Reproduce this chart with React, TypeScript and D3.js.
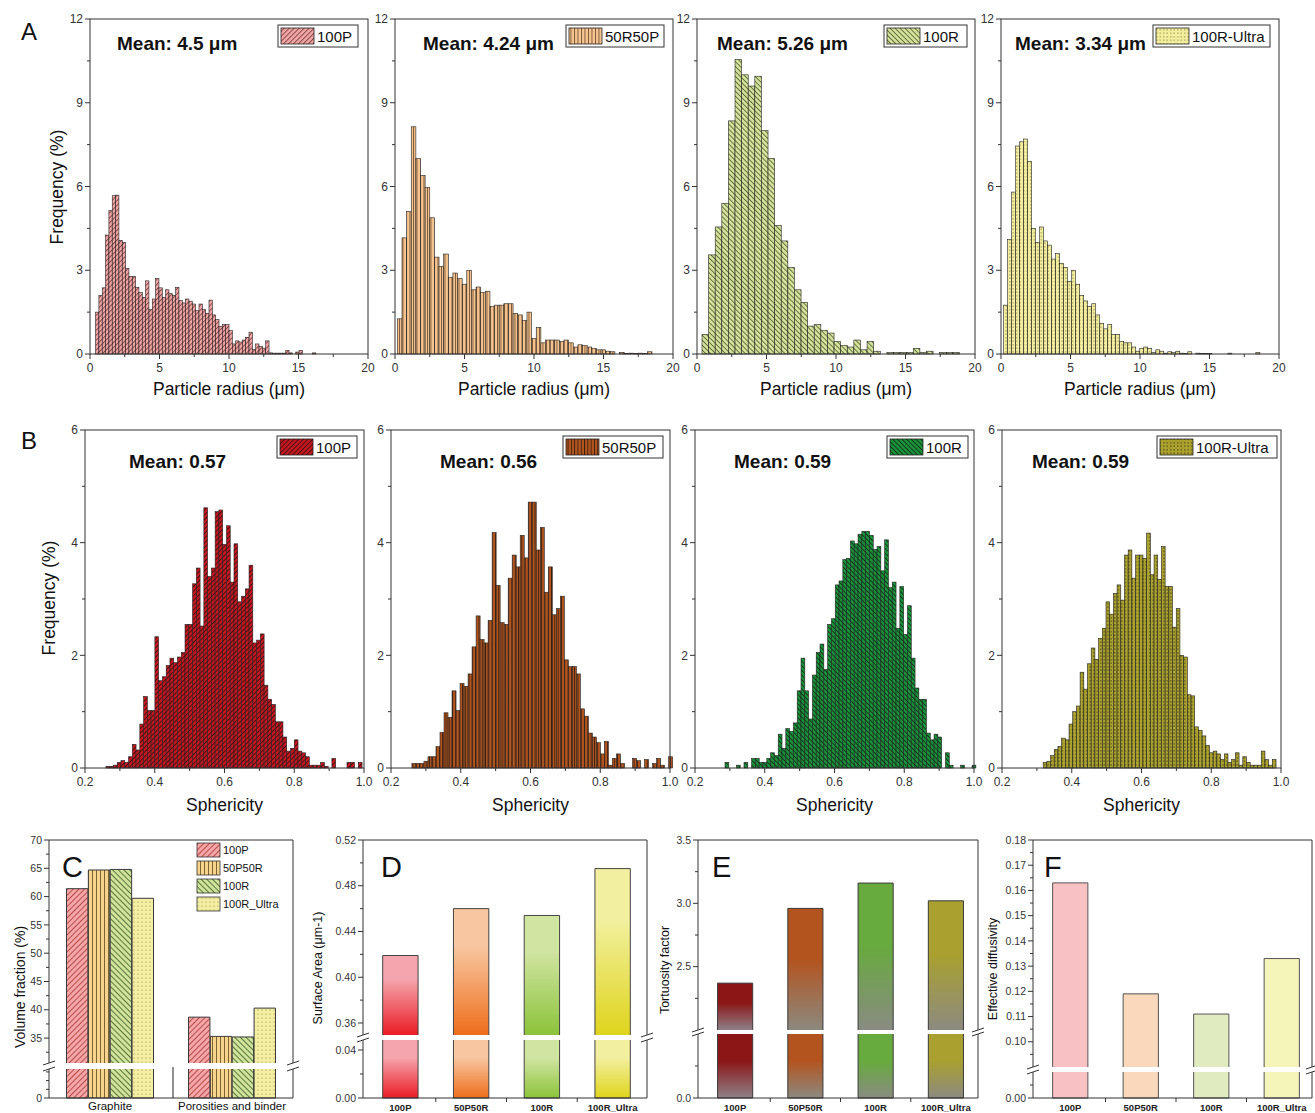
import React from "react";
import * as d3 from "d3";

// ---------------- DATA ----------------
// Row A: particle radius histograms (frequency %), bins given by [start, width]
const radiusTicks = [0, 5, 10, 15, 20];
const radiusMinor = [2.5, 7.5, 12.5, 17.5];
const radiusFreqTicks = [0, 3, 6, 9, 12];
const radiusFreqMinor = [1.5, 4.5, 7.5, 10.5];

const radius100P = [1.5, 2.1, 2.37, 4.26, 5.14, 5.67, 5.69, 4.07, 4.0, 3.07, 2.78, 2.78, 2.39, 2.2, 2.03, 2.62, 1.59, 1.97, 2.7, 2.37, 2.03, 2.3, 2.16, 2.1, 2.39, 1.91, 1.83, 1.97, 1.89, 1.79, 1.55, 1.79, 1.59, 1.46, 1.93, 1.4, 1.23, 0.99, 1.05, 1.05, 0.84, 0.36, 0.47, 0.43, 0.5, 0.6, 0.78, 0.16, 0.36, 0.27, 0.21, 0.47, 0.04, 0.03, 0.03, 0.03, 0.03, 0.13, 0.04, 0, 0.07, 0.13, 0, 0, 0, 0.04];
const radius100PBin = [0.4, 0.24];
const radius50R50P = [1.26, 4.16, 5.1, 8.14, 7.0, 6.4, 5.97, 4.88, 3.47, 3.14, 3.58, 2.75, 2.9, 2.7, 2.5, 3.0, 2.3, 2.4, 2.2, 2.25, 1.7, 1.75, 1.75, 1.8, 1.8, 1.45, 1.4, 1.2, 1.5, 0.55, 0.95, 0.4, 0.5, 0.5, 0.5, 0.45, 0.5, 0.4, 0.25, 0.33, 0.3, 0.25, 0.2, 0.15, 0.15, 0.1, 0.08, 0, 0.06, 0.02, 0.03, 0.02, 0.03, 0.02, 0.08];
const radius50R50PBin = [0.17, 0.333];
const radius100R = [0.7, 3.55, 4.55, 5.4, 8.35, 10.55, 10.0, 9.6, 9.95, 8.0, 7.0, 4.6, 4.05, 3.1, 2.3, 1.85, 1.0, 1.05, 0.85, 0.75, 0.45, 0.3, 0.25, 0.5, 0.15, 0.45, 0.1, 0, 0.05, 0.05, 0.05, 0.05, 0.2, 0.05, 0.1, 0, 0.05, 0.05, 0.05];
const radius100RBin = [0.36, 0.475];
const radiusUltra = [1.75, 4.1, 5.8, 7.45, 7.6, 7.7, 6.9, 4.5, 4.0, 4.55, 4.05, 3.9, 3.4, 3.6, 3.25, 3.1, 2.6, 3.0, 2.5, 2.1, 1.9, 1.7, 1.8, 1.4, 1.1, 0.9, 1.05, 0.7, 0.7, 0.45, 0.4, 0.4, 0.25, 0.1, 0.2, 0.25, 0.2, 0.05, 0.15, 0.1, 0.03, 0.08, 0.05, 0.1, 0.03, 0.02, 0.08, 0, 0.03, 0.02, 0.02, 0.02, 0, 0, 0, 0, 0.03, 0, 0, 0, 0, 0, 0, 0.05];
const radiusUltraBin = [0.19, 0.288];
const radiusLegends = ["100P", "50R50P", "100R", "100R-Ultra"];
const radiusMeans = ["Mean: 4.5 μm", "Mean: 4.24 μm", "Mean: 5.26 μm", "Mean: 3.34 μm"];

// Row B: sphericity histograms
const spherTicks = [0.2, 0.4, 0.6, 0.8, 1.0];
const spherMinor = [0.3, 0.5, 0.7, 0.9];
const spherFreqTicks = [0, 2, 4, 6];
const spherFreqMinor = [1, 3, 5];

const spher100P = [0.03, 0.03, 0.05, 0.1, 0.13, 0.1, 0.2, 0.42, 0.32, 0.78, 1.27, 1.02, 1.02, 2.33, 1.55, 1.62, 1.82, 1.95, 1.87, 1.97, 2.05, 2.55, 2.55, 3.27, 3.55, 2.52, 4.62, 3.4, 3.55, 4.55, 4.58, 3.97, 4.3, 3.3, 3.98, 2.95, 3.05, 3.18, 3.6, 2.22, 2.27, 2.38, 1.47, 1.22, 1.13, 0.82, 0.82, 0.55, 0.3, 0.35, 0.5, 0.3, 0.27, 0.2, 0.05, 0.05, 0.05, 0.1, 0.03, 0, 0.17, 0, 0, 0, 0.1, 0.1, 0, 0.1];
const spher100PBin = [0.26, 0.0108];
const spher50R50P = [0.08, 0.08, 0.08, 0.12, 0.2, 0.2, 0.38, 0.63, 0.98, 0.9, 1.37, 1.02, 1.5, 1.45, 1.67, 2.15, 2.7, 2.28, 2.22, 2.62, 4.18, 3.24, 2.58, 2.55, 3.37, 3.78, 3.57, 4.13, 3.73, 4.72, 4.72, 3.87, 4.27, 3.12, 3.57, 2.72, 2.83, 3.05, 1.92, 1.8, 1.8, 1.67, 1.05, 0.92, 0.62, 0.55, 0.45, 0.25, 0.47, 0.05, 0.17, 0.25, 0.08, 0, 0, 0.17, 0.13, 0, 0.15, 0, 0.08, 0.17, 0.05, 0, 0.2];
const spher50R50PBin = [0.26, 0.0115];
const spher100R = [0.1, 0, 0, 0.05, 0, 0.1, 0, 0.17, 0.17, 0.1, 0.1, 0.17, 0.27, 0.22, 0.6, 0.35, 0.7, 0.65, 0.8, 1.37, 1.95, 1.37, 0.87, 1.65, 2.05, 2.2, 1.75, 2.55, 2.65, 3.25, 3.32, 3.7, 3.72, 4.03, 3.98, 4.15, 4.2, 4.2, 4.13, 3.88, 3.93, 3.5, 4.05, 3.2, 3.3, 2.48, 3.22, 2.37, 2.88, 1.95, 1.42, 1.22, 1.22, 0.62, 0.5, 0.6, 0.55, 0, 0.27, 0.05, 0, 0, 0.05, 0, 0, 0.05];
const spher100RBin = [0.286, 0.0109];
const spherUltra = [0.1, 0.12, 0.22, 0.33, 0.38, 0.53, 0.5, 0.78, 1.0, 1.1, 1.7, 1.4, 1.85, 2.13, 1.93, 2.3, 2.48, 2.95, 2.73, 3.1, 3.25, 2.98, 3.78, 3.87, 3.37, 3.78, 3.78, 3.72, 4.17, 3.43, 3.78, 3.35, 3.93, 3.22, 3.22, 2.5, 2.83, 2.0, 1.97, 1.3, 1.28, 0.73, 0.67, 0.57, 0.4, 0.27, 0.3, 0.25, 0.15, 0.25, 0.1, 0.15, 0.27, 0.05, 0.2, 0.1, 0.05, 0.05, 0.05, 0.3, 0.15, 0.05, 0.15];
const spherUltraBin = [0.318, 0.0106];
const spherLegends = ["100P", "50R50P", "100R", "100R-Ultra"];
const spherMeans = ["Mean: 0.57", "Mean: 0.56", "Mean: 0.59", "Mean: 0.59"];

// Panel C: volume fraction
const volumeGroups = ["Graphite", "Porosities and binder"];
const volumeSeries = ["100P", "50P50R", "100R", "100R_Ultra"];
const graphiteFraction = [61.4, 64.7, 64.8, 59.7];
const porosityFraction = [38.7, 35.3, 35.2, 40.3];
const volumeUpperTicks = [35, 40, 45, 50, 55, 60, 65, 70];

// Panels D, E, F
const samples = ["100P", "50P50R", "100R", "100R_Ultra"];
const surfaceArea = [0.419, 0.46, 0.454, 0.495];
const surfaceUpperTicks = [0.36, 0.4, 0.44, 0.48, 0.52];
const surfaceLowerTicks = [0, 0.04];
const tortuosity = [2.37, 2.96, 3.16, 3.02];
const tortUpperTicks = [2.5, 3.0, 3.5];
const diffusivity = [0.163, 0.119, 0.111, 0.133];
const diffUpperTicks = [0.1, 0.11, 0.12, 0.13, 0.14, 0.15, 0.16, 0.17, 0.18];

// ---------------- STYLE / LAYOUT ----------------
const FONT = "'Liberation Sans', Arial, Helvetica, sans-serif";
const AX = "#333";

const rowALefts = [90, 395, 697, 1001];
const rowBLefts = [85, 391, 695, 1002];
const histW = 278;
const histWB = 279;
const rowA = { top: 19, bottom: 354 };
const rowB = { top: 430, bottom: 768 };
const meanAX = [117, 423, 717, 1015];
const meanBX = [129, 440, 734, 1032];
const legA = [[278, 80], [566, 98], [884, 83], [1153, 117]];
const legB = [[277, 80], [563, 100], [887, 81], [1157, 120]];

const kinds = ["up", "vert", "down", "dots"];
const fillA = ["#f2a5a5", "#f7c48f", "#d5e39c", "#f4ef9f"];
const strokeA = ["#5a2424", "#4a3018", "#33401a", "#6a6428"];
const fillB = ["#c9161e", "#b3541d", "#19943a", "#aba22d"];
const fillC = ["#f5a7a7", "#f6d48d", "#cfe39d", "#f3eea1"];
const strokeC = ["#a83434", "#5e4818", "#3f5a1e", "#8a8240"];
const gradDTop = ["#f5a5ad", "#f8c6a0", "#d1e5a2", "#f2f0a0"];
const gradDBot = ["#ea1c24", "#ee6e1c", "#8cc33a", "#dfd41c"];
const gradETop = ["#8a1616", "#b3541f", "#67aa3d", "#a9a030"];
const gradEBot = ["#8e8189", "#8c897f", "#898b82", "#8c8a80"];
const fillF = ["#f8c1c3", "#f9d8bc", "#e0ebc0", "#f5f4b9"];

function Pat({ id, kind, fill, stroke, size, sw }: any) {
  if (kind === "dots") {
    return (
      <pattern id={id} width={size} height={size} patternUnits="userSpaceOnUse">
        <rect width={size} height={size} fill={fill} />
        <circle cx={size / 2} cy={size / 2} r={0.55} fill={stroke} />
      </pattern>
    );
  }
  const rot = kind === "up" ? 45 : kind === "down" ? -45 : 0;
  return (
    <pattern id={id} width={size} height={size} patternUnits="userSpaceOnUse" patternTransform={`rotate(${rot})`}>
      <rect width={size} height={size} fill={fill} />
      <line x1={0.5} y1={0} x2={0.5} y2={size} stroke={stroke} strokeWidth={sw} />
    </pattern>
  );
}

function Histogram(p: any) {
  const sx = d3.scaleLinear().domain(p.xDomain).range([p.left, p.left + p.width]);
  const sy = d3.scaleLinear().domain(p.yDomain).range([p.bottom, p.top]);
  const bars = p.values
    .map((v: number, i: number) => ({ v, x0: p.start + i * p.binWidth, x1: p.start + (i + 1) * p.binWidth }))
    .filter((b: any) => b.v > 0);
  const [lx, lw] = p.legend;
  const ly = p.top + 6;
  return (
    <g>
      {bars.map((b: any, i: number) => (
        <rect key={i} x={sx(b.x0)} y={sy(b.v)} width={sx(b.x1) - sx(b.x0)} height={sy(0) - sy(b.v)}
          fill={`url(#${p.patternId})`} stroke="#222" strokeWidth={0.6} />
      ))}
      <rect x={p.left} y={p.top} width={p.width} height={p.bottom - p.top} fill="none" stroke={AX} strokeWidth={1} />
      {p.xTicks.map((t: number) => (
        <g key={"xt" + t}>
          <line x1={sx(t)} x2={sx(t)} y1={p.bottom} y2={p.bottom + 5} stroke={AX} />
          <text x={sx(t)} y={p.bottom + 18} textAnchor="middle" fontSize={12} fill="#333">{p.fmtX(t)}</text>
        </g>
      ))}
      {p.xMinor.map((t: number) => (
        <line key={"xm" + t} x1={sx(t)} x2={sx(t)} y1={p.bottom} y2={p.bottom + 3} stroke={AX} />
      ))}
      {p.yTicks.map((t: number) => (
        <g key={"yt" + t}>
          <line x1={p.left - 5} x2={p.left} y1={sy(t)} y2={sy(t)} stroke={AX} />
          <text x={p.left - 7} y={sy(t)} dy="0.35em" textAnchor="end" fontSize={12} fill="#333">{t}</text>
        </g>
      ))}
      {p.yMinor.map((t: number) => (
        <line key={"ym" + t} x1={p.left - 3} x2={p.left} y1={sy(t)} y2={sy(t)} stroke={AX} />
      ))}
      <rect x={lx} y={ly} width={lw} height={22} fill="#fff" stroke={AX} strokeWidth={1} />
      <rect x={lx + 3} y={ly + 3} width={33} height={16} fill={`url(#${p.patternId})`} stroke="#222" strokeWidth={0.8} />
      <text x={lx + 39} y={ly + 17} fontSize={15} fill="#111">{p.legendLabel}</text>
      <text x={p.meanX} y={p.meanY} fontSize={19} fontWeight="bold" fill="#111">{p.mean}</text>
      <text x={p.left + p.width / 2} y={p.xLabelY} textAnchor="middle" fontSize={17.5} fill="#111">{p.xLabel}</text>
    </g>
  );
}

function BrokenPanel(p: any) {
  const up = d3.scaleLinear().domain(p.upperDomain).range([p.upperBottom, p.top]);
  const lo = d3.scaleLinear().domain(p.lowerDomain).range([p.bottom, p.lowerTop]);
  const breakMarks = (x: number) => (
    <g>
      <polygon points={`${x - 6},${p.upperBottom + 2} ${x + 6},${p.upperBottom - 2} ${x + 6},${p.lowerTop - 2} ${x - 6},${p.lowerTop + 2}`} fill="#fff" />
      <line x1={x - 6} y1={p.upperBottom + 2} x2={x + 6} y2={p.upperBottom - 2} stroke={AX} strokeWidth={1} />
      <line x1={x - 6} y1={p.lowerTop + 2} x2={x + 6} y2={p.lowerTop - 2} stroke={AX} strokeWidth={1} />
    </g>
  );
  const lowMax = p.lowerDomain[1];
  return (
    <g>
      {p.bars.map((b: any, i: number) => {
        const lt = lo(Math.min(b.v, lowMax));
        const ut = up(b.v);
        const x2 = b.x + b.w;
        return (
          <g key={i}>
            <rect x={b.x} y={lt} width={b.w} height={p.bottom - lt} fill={b.fill} />
            <path d={`M${b.x},${lt} L${b.x},${p.bottom} L${x2},${p.bottom} L${x2},${lt}`} fill="none" stroke={p.barStroke} strokeWidth={1} />
            {b.v > p.upperDomain[0] && (
              <g>
                <rect x={b.x} y={ut} width={b.w} height={p.upperBottom - ut} fill={b.fill} />
                <path d={`M${b.x},${p.upperBottom} L${b.x},${ut} L${x2},${ut} L${x2},${p.upperBottom}`} fill="none" stroke={p.barStroke} strokeWidth={1} />
              </g>
            )}
          </g>
        );
      })}
      <line x1={p.left} x2={p.right} y1={p.top} y2={p.top} stroke={AX} />
      <line x1={p.left} x2={p.right} y1={p.bottom} y2={p.bottom} stroke={AX} />
      <line x1={p.left} x2={p.left} y1={p.top} y2={p.upperBottom} stroke={AX} />
      <line x1={p.left} x2={p.left} y1={p.lowerTop} y2={p.bottom} stroke={AX} />
      <line x1={p.right} x2={p.right} y1={p.top} y2={p.upperBottom} stroke={AX} />
      <line x1={p.right} x2={p.right} y1={p.lowerTop} y2={p.bottom} stroke={AX} />
      {breakMarks(p.left)}
      {breakMarks(p.right)}
      {p.upperTicks.map((t: number) => (
        <g key={"u" + t}>
          <line x1={p.left - 5} x2={p.left} y1={up(t)} y2={up(t)} stroke={AX} />
          <text x={p.left - 7} y={up(t)} dy="0.35em" textAnchor="end" fontSize={10.5} fill="#333">{p.fmt(t)}</text>
        </g>
      ))}
      {p.upperMinor.map((t: number) => (
        <line key={"um" + t} x1={p.left - 3} x2={p.left} y1={up(t)} y2={up(t)} stroke={AX} />
      ))}
      {p.lowerTicks.map((t: number) => (
        <g key={"l" + t}>
          <line x1={p.left - 5} x2={p.left} y1={lo(t)} y2={lo(t)} stroke={AX} />
          <text x={p.left - 7} y={lo(t)} dy="0.35em" textAnchor="end" fontSize={10.5} fill="#333">{p.fmt(t)}</text>
        </g>
      ))}
      {p.lowerMinor.map((t: number) => (
        <line key={"lm" + t} x1={p.left - 3} x2={p.left} y1={lo(t)} y2={lo(t)} stroke={AX} />
      ))}
      {p.xTicks.map((x: number, i: number) => (
        <line key={"xt" + i} x1={x} x2={x} y1={p.bottom} y2={p.bottom + 4} stroke={AX} />
      ))}
      <text transform={`translate(${p.yLabelX},${p.yLabelY}) rotate(-90)`} textAnchor="middle" dy="0.35em" fontSize={p.yLabelSize} fill="#111">{p.yLabel}</text>
      <text x={p.letterX} y={p.top + 37} fontSize={29} fill="#111">{p.letter}</text>
      {p.children}
    </g>
  );
}

export default function App() {
  const radiusData = [
    [radius100P, radius100PBin],
    [radius50R50P, radius50R50PBin],
    [radius100R, radius100RBin],
    [radiusUltra, radiusUltraBin],
  ];
  const spherData = [
    [spher100P, spher100PBin],
    [spher50R50P, spher50R50PBin],
    [spher100R, spher100RBin],
    [spherUltra, spherUltraBin],
  ];

  // Panel C
  const cLeft = 49, cRight = 293, botTop = 840, botBottom = 1098;
  const groupScale = d3.scaleBand().domain(volumeGroups).range([cLeft, cRight]);
  const innerScale = d3.scaleBand().domain(volumeSeries).range([0, 87]).paddingInner(0.02);
  const volumeBars: any[] = [];
  [graphiteFraction, porosityFraction].forEach((vals, gi) => {
    const g = volumeGroups[gi];
    const cx = (groupScale(g) as number) + groupScale.bandwidth() / 2;
    vals.forEach((v, si) => {
      volumeBars.push({ x: cx - 43.5 + (innerScale(volumeSeries[si]) as number), w: innerScale.bandwidth(), v, fill: `url(#pc${si})` });
    });
  });

  const makeBand = (r0: number, r1: number) =>
    d3.scaleBand().domain(samples).range([r0, r1]).paddingInner(0.5).paddingOuter(0.25);
  const dBand = makeBand(365, 648);
  const eBand = makeBand(700, 981);
  const fBand = makeBand(1035, 1317);
  const mids = (b: any) => samples.slice(0, 3).map((s) => (b(s) as number) + b.bandwidth() + (b.step() - b.bandwidth()) / 2);

  const catLabels = (b: any) =>
    samples.map((s) => (
      <text key={s} x={(b(s) as number) + b.bandwidth() / 2} y={1111} textAnchor="middle" fontSize={9.5} fontWeight="bold" fill="#222">{s}</text>
    ));

  return (
    <svg width={1315} height={1113} style={{ position: "absolute", left: 0, top: 0 }} fontFamily={FONT}>
      <defs>
        {kinds.map((k, i) => (
          <Pat key={"a" + i} id={`pa${i}`} kind={k} fill={fillA[i]} stroke={strokeA[i]} size={3.5} sw={0.7} />
        ))}
        {kinds.map((k, i) => (
          <Pat key={"b" + i} id={`pb${i}`} kind={k} fill={fillB[i]} stroke="#111" size={k === "dots" ? 3.5 : 3.3} sw={0.7} />
        ))}
        {kinds.map((k, i) => (
          <Pat key={"c" + i} id={`pc${i}`} kind={k} fill={fillC[i]} stroke={strokeC[i]} size={4} sw={0.8} />
        ))}
        {samples.map((s, i) => (
          <linearGradient key={"gd" + i} id={`gd${i}`} x1="0" y1="0" x2="0" y2="1">
            <stop offset="0" stopColor={gradDTop[i]} />
            <stop offset="0.3" stopColor={gradDTop[i]} />
            <stop offset="1" stopColor={gradDBot[i]} />
          </linearGradient>
        ))}
        {samples.map((s, i) => (
          <linearGradient key={"ge" + i} id={`ge${i}`} x1="0" y1="0" x2="0" y2="1">
            <stop offset="0" stopColor={gradETop[i]} />
            <stop offset="0.42" stopColor={gradETop[i]} />
            <stop offset="1" stopColor={gradEBot[i]} />
          </linearGradient>
        ))}
      </defs>
      <rect width={1315} height={1113} fill="#fff" />

      {/* Row A */}
      <text x={21} y={40} fontSize={24} fill="#111">A</text>
      {radiusData.map(([vals, bin]: any, i) => (
        <Histogram key={"A" + i} left={rowALefts[i]} width={histW} top={rowA.top} bottom={rowA.bottom}
          xDomain={[0, 20]} yDomain={[0, 12]} values={vals} start={bin[0]} binWidth={bin[1]}
          xTicks={radiusTicks} xMinor={radiusMinor} yTicks={radiusFreqTicks} yMinor={radiusFreqMinor}
          fmtX={(v: number) => String(v)} patternId={`pa${i}`} legend={legA[i]} legendLabel={radiusLegends[i]}
          mean={radiusMeans[i]} meanX={meanAX[i]} meanY={50} xLabel="Particle radius (μm)" xLabelY={395} />
      ))}
      <text transform="translate(57,187) rotate(-90)" textAnchor="middle" dy="0.35em" fontSize={17.5} fill="#111">Frequency (%)</text>

      {/* Row B */}
      <text x={21} y={449} fontSize={24} fill="#111">B</text>
      {spherData.map(([vals, bin]: any, i) => (
        <Histogram key={"B" + i} left={rowBLefts[i]} width={histWB} top={rowB.top} bottom={rowB.bottom}
          xDomain={[0.2, 1.0]} yDomain={[0, 6]} values={vals} start={bin[0]} binWidth={bin[1]}
          xTicks={spherTicks} xMinor={spherMinor} yTicks={spherFreqTicks} yMinor={spherFreqMinor}
          fmtX={(v: number) => v.toFixed(1)} patternId={`pb${i}`} legend={legB[i]} legendLabel={spherLegends[i]}
          mean={spherMeans[i]} meanX={meanBX[i]} meanY={468} xLabel="Sphericity" xLabelY={811} />
      ))}
      <text transform="translate(49,598) rotate(-90)" textAnchor="middle" dy="0.35em" fontSize={17.5} fill="#111">Frequency (%)</text>

      {/* Panel C */}
      <BrokenPanel left={cLeft} right={cRight} top={botTop} bottom={botBottom} upperBottom={1063} lowerTop={1069}
        upperDomain={[30.6, 70]} lowerDomain={[0, 5]} upperTicks={volumeUpperTicks}
        upperMinor={[32.5, 37.5, 42.5, 47.5, 52.5, 57.5, 62.5, 67.5]} lowerTicks={[0]} lowerMinor={[1.5, 3, 4.5]}
        fmt={(v: number) => String(v)} bars={volumeBars} barStroke="#3a3a3a" xTicks={[]}
        yLabel="Volume fraction (%)" yLabelX={20} yLabelY={987} yLabelSize={14} letter="C" letterX={62}>
        <line x1={(groupScale(volumeGroups[1]) as number) + 2} x2={(groupScale(volumeGroups[1]) as number) + 2} y1={1067} y2={botBottom} stroke="#222" strokeWidth={1} />
        {volumeGroups.map((g) => (
          <text key={g} x={(groupScale(g) as number) + groupScale.bandwidth() / 2} y={1110} textAnchor="middle" fontSize={11.5} fill="#111">{g}</text>
        ))}
        {volumeSeries.map((s, i) => (
          <g key={s}>
            <rect x={197} y={843 + i * 18} width={23} height={14} fill={`url(#pc${i})`} stroke="#333" strokeWidth={0.8} />
            <text x={223} y={854 + i * 18} fontSize={11} fill="#111">{s}</text>
          </g>
        ))}
      </BrokenPanel>

      {/* Panel D */}
      <BrokenPanel left={363} right={647} top={botTop} bottom={botBottom} upperBottom={1035} lowerTop={1040}
        upperDomain={[0.3495, 0.52]} lowerDomain={[0, 0.0483]} upperTicks={surfaceUpperTicks}
        upperMinor={[0.38, 0.42, 0.46, 0.5]} lowerTicks={surfaceLowerTicks} lowerMinor={[0.02]}
        fmt={(v: number) => v.toFixed(2)}
        bars={samples.map((s, i) => ({ x: dBand(s), w: dBand.bandwidth(), v: surfaceArea[i], fill: `url(#gd${i})` }))}
        barStroke="#444" xTicks={mids(dBand)}
        yLabel="Surface Area (μm-1)" yLabelX={318} yLabelY={968} yLabelSize={12.5} letter="D" letterX={381}>
        {catLabels(dBand)}
      </BrokenPanel>

      {/* Panel E */}
      <BrokenPanel left={698} right={978} top={botTop} bottom={botBottom} upperBottom={1030} lowerTop={1034}
        upperDomain={[2.0, 3.5]} lowerDomain={[0, 1]} upperTicks={tortUpperTicks}
        upperMinor={[2.25, 2.75, 3.25]} lowerTicks={[0]} lowerMinor={[0.5]}
        fmt={(v: number) => v.toFixed(1)}
        bars={samples.map((s, i) => ({ x: eBand(s), w: eBand.bandwidth(), v: tortuosity[i], fill: `url(#ge${i})` }))}
        barStroke="#3a3a3a" xTicks={mids(eBand)}
        yLabel="Tortuosity factor" yLabelX={665} yLabelY={970} yLabelSize={12.5} letter="E" letterX={712}>
        {catLabels(eBand)}
      </BrokenPanel>

      {/* Panel F */}
      <BrokenPanel left={1033} right={1312} top={botTop} bottom={botBottom} upperBottom={1067} lowerTop={1072}
        upperDomain={[0.09, 0.18]} lowerDomain={[0, 0.01]} upperTicks={diffUpperTicks}
        upperMinor={[0.095, 0.105, 0.115, 0.125, 0.135, 0.145, 0.155, 0.165, 0.175]} lowerTicks={[0]} lowerMinor={[0.005]}
        fmt={(v: number) => v.toFixed(2)}
        bars={samples.map((s, i) => ({ x: fBand(s), w: fBand.bandwidth(), v: diffusivity[i], fill: fillF[i] }))}
        barStroke="#555" xTicks={mids(fBand)}
        yLabel="Effective diffusivity" yLabelX={993} yLabelY={969} yLabelSize={12.5} letter="F" letterX={1044}>
        {catLabels(fBand)}
      </BrokenPanel>
    </svg>
  );
}
